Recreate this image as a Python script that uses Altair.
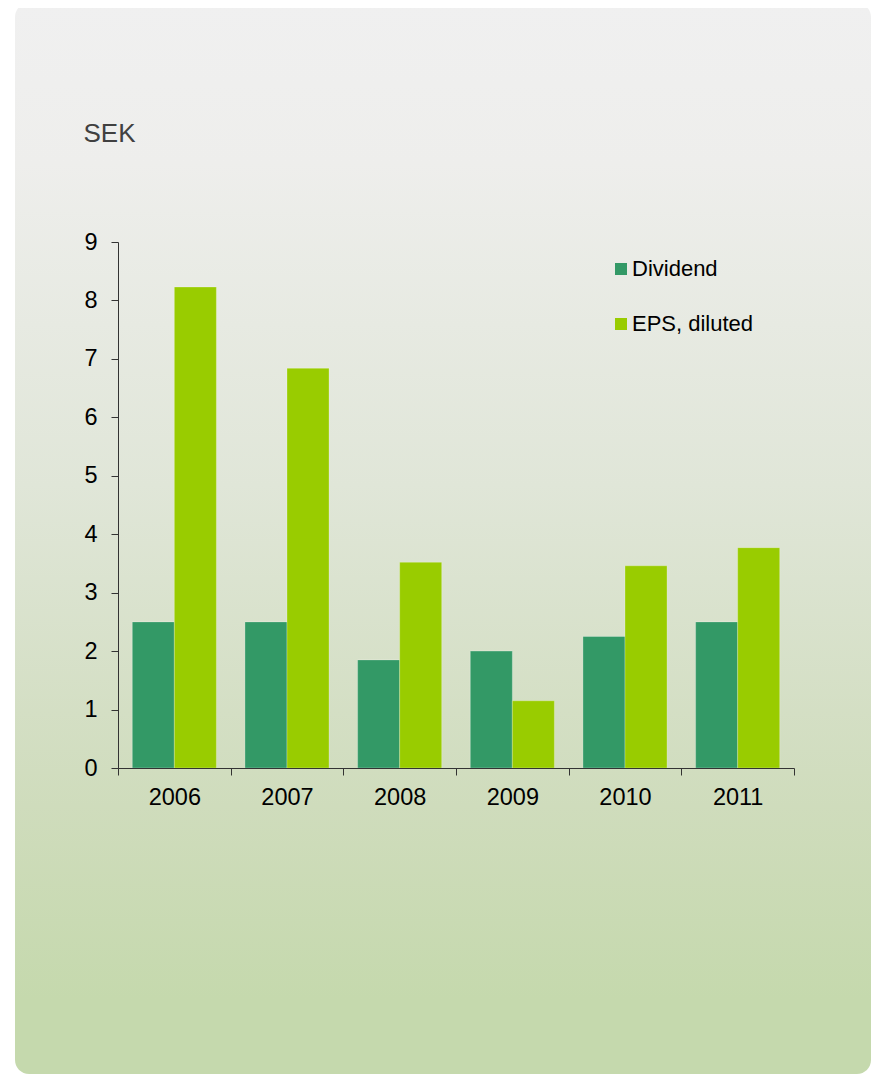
import altair as alt
import pandas as pd

years = ["2006", "2007", "2008", "2009", "2010", "2011"]
dividend = [2.50, 2.50, 1.85, 2.00, 2.25, 2.50]
eps_diluted = [8.23, 6.84, 3.52, 1.15, 3.46, 3.77]
series_names = ["Dividend", "EPS, diluted"]
series_colors = ["#339966", "#99cc00"]
y_ticks = [0, 1, 2, 3, 4, 5, 6, 7, 8, 9]
unit_label = "SEK"

rows = []
for i, yr in enumerate(years):
    rows.append({"year": yr, "series": series_names[0], "value": dividend[i]})
    rows.append({"year": yr, "series": series_names[1], "value": eps_diluted[i]})
df = pd.DataFrame(rows)

FONT = "Liberation Sans"
W, H = 676, 526

gradient = alt.LinearGradient(
    gradient="linear",
    x1=0, y1=0, x2=0, y2=1,
    stops=[
        alt.GradientStop(color="#f0f0f0", offset=0),
        alt.GradientStop(color="#eeeeec", offset=0.15),
        alt.GradientStop(color="#e0e6d8", offset=0.45),
        alt.GradientStop(color="#cfdcbc", offset=0.75),
        alt.GradientStop(color="#c5d9ad", offset=0.93),
        alt.GradientStop(color="#c5d9ad", offset=1),
    ],
)

bg = alt.Chart(pd.DataFrame({"d": [0]})).mark_rect(
    fill=gradient, cornerRadius=14
).encode(
    x=alt.value(-103), x2=alt.value(753),
    y=alt.value(-239), y2=alt.value(832),
)

bars = alt.Chart(df).mark_bar(stroke="white", strokeWidth=1, strokeOpacity=0.25).encode(
    x=alt.X(
        "year:N",
        sort=years,
        title=None,
        scale=alt.Scale(paddingInner=0, paddingOuter=0),
        axis=alt.Axis(
            tickBand="extent", labelAngle=0, labelFontSize=23.5, labelFont=FONT,
            labelColor="#000000", tickSize=7, labelPadding=10,
            domainColor="#333333", tickColor="#333333", grid=False, zindex=2,
        ),
    ),
    xOffset=alt.XOffset(
        "series:N", sort=series_names,
        scale=alt.Scale(paddingInner=0, paddingOuter=0.34),
    ),
    y=alt.Y(
        "value:Q",
        scale=alt.Scale(domain=[0, 9], nice=False),
        axis=alt.Axis(
            values=y_ticks, title=unit_label, titleAngle=0, titleX=-35, titleY=-109,
            titleAlign="left", titleBaseline="middle", titleFontSize=26,
            titleFont=FONT, titleFontWeight="normal", titleColor="#404040",
            labelFontSize=23.5, labelFont=FONT, labelColor="#000000",
            tickSize=7, labelPadding=14, domainColor="#333333",
            tickColor="#333333", grid=False, zindex=2,
        ),
    ),
    color=alt.Color(
        "series:N",
        sort=series_names,
        scale=alt.Scale(domain=series_names, range=series_colors),
        legend=alt.Legend(
            title=None, orient="none", legendX=492, legendY=16,
            symbolType="square", symbolSize=144, symbolStrokeWidth=0,
            labelFontSize=22, labelFont=FONT, labelColor="#000000",
            labelOffset=0, rowPadding=33, symbolOpacity=1, zindex=2,
        ),
    ),
)

chart = alt.layer(bg, bars).properties(
    width=W, height=H,
    padding={"left": 110, "top": 234, "right": 79, "bottom": 312},
    autosize=alt.AutoSizeParams(type="none"),
    background="white",
).configure_view(stroke=None)

chart.save("out.html", embed_options={"renderer": "svg", "actions": False})
